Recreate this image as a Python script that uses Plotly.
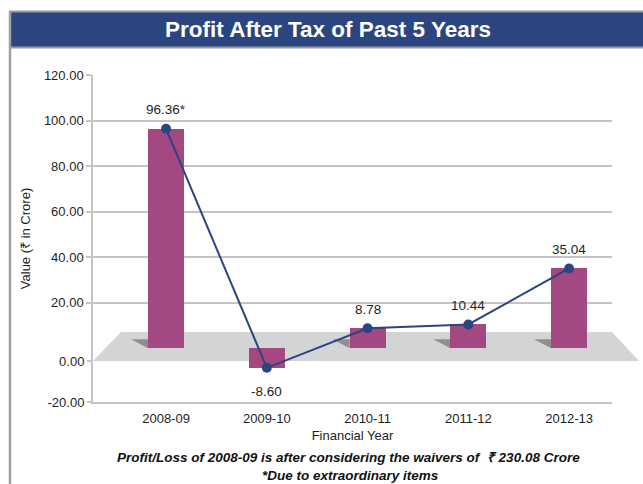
import plotly.graph_objects as go

# ---- data -------------------------------------------------------------
years = ["2008-09", "2009-10", "2010-11", "2011-12", "2012-13"]
profit_after_tax = [96.36, -8.60, 8.78, 10.44, 35.04]
label_suffix = ["*", "", "", "", ""]
wall_ticks = [20, 40, 60, 80, 100, 120]
front_ticks = [0, -20]

# ---- geometry (pixels) ------------------------------------------------
W, H = 643, 484
M_L, M_R, M_T, M_B = 93, 31, 75, 82
PLOT_W = W - M_L - M_R
PLOT_H = H - M_T - M_B
Y_TOP = 120
PX_PER_UNIT = 2.277
Y_BOTTOM = Y_TOP - PLOT_H / PX_PER_UNIT
X_MIN, X_MAX = -0.725, 4.426
BAR_W = 0.357

FLOOR_BACK_PX = 332
FLOOR_FRONT_PX = 361
FLOOR_SKEW_PX = 28
FLOOR_RIGHT_PX = 639

NAVY = "#2B4580"
BAR_COLOR = "#A34880"
GRID = "#C4C4C4"
TEXT = "#1E1E1E"
FONT = "Liberation Sans, Arial, sans-serif"


def y_from_px(py):
    return Y_TOP - (py - M_T) / PX_PER_UNIT


def px_x(i):
    return M_L + (i - X_MIN) * PLOT_W / (X_MAX - X_MIN)


def px_y(v):
    return M_T + (Y_TOP - v) * PX_PER_UNIT


def paper_x(px):
    return (px - M_L) / PLOT_W


def paper_y(py):
    return (H - M_B - py) / PLOT_H


def paper_path(points):
    pts = [f"{paper_x(x):.5f},{paper_y(y):.5f}" for x, y in points]
    return "M " + " L ".join(pts) + " Z"


front_tick_pos = [y_from_px(FLOOR_FRONT_PX), Y_BOTTOM]

fig = go.Figure()

fig.add_trace(go.Bar(
    x=years, y=profit_after_tax, width=BAR_W,
    marker=dict(color=BAR_COLOR, line=dict(width=0)),
    showlegend=False, hoverinfo="skip",
))

fig.add_trace(go.Scatter(
    x=years, y=profit_after_tax, mode="lines+markers",
    line=dict(color=NAVY, width=2),
    marker=dict(color=NAVY, size=10),
    showlegend=False,
))

# empty trace so the front-edge axis gets its own subplot
fig.add_trace(go.Scatter(x=[], y=[], yaxis="y2", showlegend=False))

shapes = []

# title banner
shapes.append(dict(type="rect", xref="paper", yref="paper",
                   x0=paper_x(10), x1=paper_x(W + 5),
                   y0=paper_y(47.5), y1=paper_y(11.5),
                   fillcolor=NAVY, line=dict(color="#9A9A9A", width=2),
                   layer="above"))
# left frame line
shapes.append(dict(type="line", xref="paper", yref="paper",
                   x0=paper_x(10), x1=paper_x(10),
                   y0=paper_y(11.5), y1=paper_y(H + 2),
                   line=dict(color="#A0A0A0", width=2.5)))

# floor of the 3-D chart
shapes.append(dict(type="path", xref="paper", yref="paper", layer="between",
                   path=paper_path([(M_L, FLOOR_FRONT_PX),
                                    (M_L + FLOOR_SKEW_PX, FLOOR_BACK_PX),
                                    (W - M_R, FLOOR_BACK_PX),
                                    (FLOOR_RIGHT_PX, FLOOR_FRONT_PX)]),
                   fillcolor="#D3D4D6", line=dict(width=0)))

# shadows at the base of positive columns
for i, v in enumerate(profit_after_tax):
    if v <= 0:
        continue
    left = px_x(i) - BAR_W / 2 * PLOT_W / (X_MAX - X_MIN)
    base = px_y(0)
    shapes.append(dict(type="path", xref="paper", yref="paper", layer="between",
                       path=paper_path([(left - 17, base - 9),
                                        (left, base - 9),
                                        (left, base)]),
                       fillcolor="#8F8F8F", line=dict(width=0)))

annotations = []
for yr, v, sfx in zip(years, profit_after_tax, label_suffix):
    annotations.append(dict(
        x=yr, y=v, text=f"{v:.2f}{sfx}", showarrow=False,
        yshift=19 if v >= 0 else -24, yanchor="middle",
        font=dict(family=FONT, size=13.5, color=TEXT),
    ))

annotations.append(dict(
    xref="paper", yref="paper", x=paper_x(328), y=paper_y(30),
    text="<b>Profit After Tax of Past 5 Years</b>", showarrow=False,
    xanchor="center", yanchor="middle",
    font=dict(family=FONT, size=22.5, color="white"),
))
annotations.append(dict(
    xref="paper", yref="paper", x=paper_x(348), y=paper_y(457),
    text="<b><i>Profit/Loss of 2008-09 is after considering the waivers of  ₹ 230.08 Crore</i></b>",
    showarrow=False, xanchor="center", yanchor="middle",
    font=dict(family=FONT, size=13.5, color="#111111"),
))
annotations.append(dict(
    xref="paper", yref="paper", x=paper_x(350), y=paper_y(475),
    text="<b><i>*Due to extraordinary items</i></b>",
    showarrow=False, xanchor="center", yanchor="middle",
    font=dict(family=FONT, size=13.5, color="#111111"),
))

fig.update_layout(
    width=W, height=H,
    margin=dict(l=M_L, r=M_R, t=M_T, b=M_B, pad=0),
    paper_bgcolor="white", plot_bgcolor="white",
    font=dict(family=FONT, size=13, color=TEXT),
    bargap=0,
    shapes=shapes,
    annotations=annotations,
    xaxis=dict(
        type="category", range=[X_MIN, X_MAX],
        showgrid=False, zeroline=False,
        showline=True, linecolor=GRID, linewidth=1.5,
        ticks="", ticklabelstandoff=4,
        tickfont=dict(family=FONT, size=13, color=TEXT),
        title=dict(text="Financial Year", standoff=6,
                   font=dict(family=FONT, size=13, color=TEXT)),
    ),
    yaxis=dict(
        range=[Y_BOTTOM, Y_TOP],
        tickvals=wall_ticks, ticktext=[f"{v:.2f}" for v in wall_ticks],
        showgrid=True, gridcolor=GRID, gridwidth=1.5,
        zeroline=False,
        showline=True, linecolor=GRID, linewidth=1.5,
        ticks="outside", ticklen=5, tickcolor=GRID, tickwidth=1.5,
        tickfont=dict(family=FONT, size=13, color=TEXT),
        title=dict(text="Value (₹ in Crore)", standoff=10,
                   font=dict(family=FONT, size=13, color=TEXT)),
    ),
    yaxis2=dict(
        overlaying="y", side="left", range=[Y_BOTTOM, Y_TOP],
        tickvals=front_tick_pos, ticktext=[f"{v:.2f}" for v in front_ticks],
        showgrid=False, zeroline=False, showline=False,
        ticks="outside", ticklen=5, tickcolor=GRID, tickwidth=1.5,
        tickfont=dict(family=FONT, size=13, color=TEXT),
    ),
)

fig.write_html("out.html")
